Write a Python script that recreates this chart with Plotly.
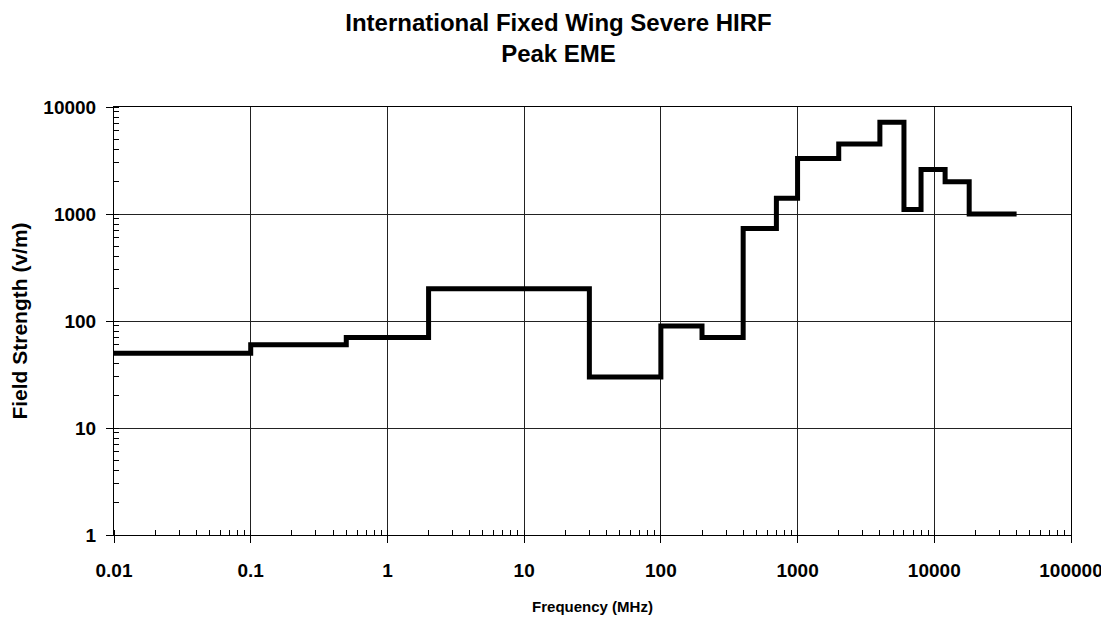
import plotly.graph_objects as go

# band edges (MHz) and peak field strength (V/m) for each band
freq_edges = [0.01, 0.1, 0.5, 2, 30, 100, 200, 400, 700, 1000,
              2000, 4000, 6000, 8000, 12000, 18000, 40000]
field_strength = [50, 60, 70, 200, 30, 90, 70, 730, 1400, 3300,
                  4500, 7200, 1100, 2600, 2000, 1000]

FONT = "Liberation Sans, Arial, sans-serif"

# repeat the last level so the step reaches the final band edge
y_vals = field_strength + [field_strength[-1]]

fig = go.Figure(
    go.Scatter(
        x=freq_edges,
        y=y_vals,
        mode="lines",
        line={"shape": "hv", "color": "black", "width": 5},
        showlegend=False,
    )
)

axis_common = dict(
    type="log",
    dtick=1,
    tickformat="~g",
    automargin=False,
    showline=True,
    linecolor="black",
    linewidth=1,
    mirror=True,
    showgrid=True,
    gridcolor="#222",
    gridwidth=1,
    zeroline=False,
    ticks="outside",
    ticklen=7,
    tickcolor="black",
    tickfont={"family": FONT, "size": 19, "color": "black"},
    minor={"ticks": "inside", "ticklen": 5, "tickcolor": "black",
           "dtick": "D1", "showgrid": False},
)

fig.update_xaxes(
    range=[-2, 5],
    ticklabelstandoff=11,
    title={"text": "<b>Frequency (MHz)</b>", "standoff": 21,
           "font": {"family": FONT, "size": 15, "color": "black"}},
    **axis_common,
)
fig.update_yaxes(
    range=[0, 4],
    ticklabelstandoff=6,
    title={"text": "<b>Field Strength (v/m)</b>", "standoff": 12,
           "font": {"family": FONT, "size": 21, "color": "black"}},
    **axis_common,
)

# the page body adds an 8px offset, so the figure is sized to compensate
fig.update_layout(
    width=1101,
    height=614,
    paper_bgcolor="white",
    plot_bgcolor="white",
    font={"family": FONT, "weight": "bold"},
    margin={"l": 106, "r": 38, "t": 99, "b": 87},
    title={
        "text": "<b>International Fixed Wing Severe HIRF<br>Peak EME</b>",
        "x": 0.5,
        "xanchor": "center",
        "y": 0.963,
        "yanchor": "top",
        "font": {"family": FONT, "size": 24, "color": "black"},
    },
)

fig.write_html("out.html")
